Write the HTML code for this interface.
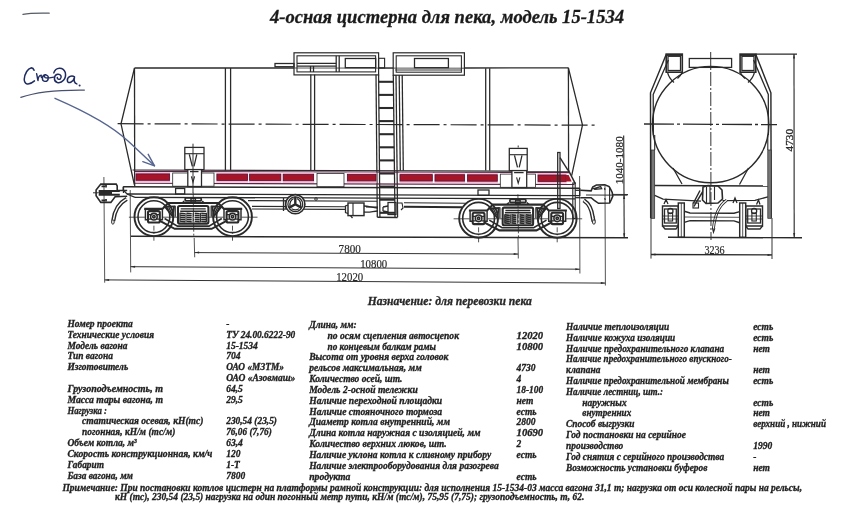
<!DOCTYPE html>
<html><head><meta charset="utf-8"><title>4-осная цистерна для пека, модель 15-1534</title>
<style>
html,body{margin:0;padding:0;background:#ffffff;}
body{width:850px;height:521px;overflow:hidden;font-family:"Liberation Serif",serif;}
svg{display:block;position:absolute;left:0;top:0;}
svg text{font-family:"Liberation Serif",serif;}
#txt,#dims{filter:grayscale(1) blur(0.3px);}
#side,#end,#hand{filter:blur(0.3px);}
</style></head><body>
<svg width="850" height="521" viewBox="0 0 850 521">
<rect x="0" y="0" width="850" height="521" fill="#ffffff"/>
<g id="side" fill="none" stroke-linecap="butt">
<line x1="134.5" y1="68.0" x2="294.0" y2="68.0" stroke="#2a2a2a" stroke-width="1.28" />
<line x1="378.0" y1="68.0" x2="393.0" y2="68.0" stroke="#2a2a2a" stroke-width="1.12" />
<line x1="464.4" y1="68.0" x2="568.4" y2="67.8" stroke="#2a2a2a" stroke-width="1.28" />
<line x1="294.0" y1="68.0" x2="464.4" y2="68.2" stroke="#2a2a2a" stroke-width="0.80" />
<path d="M134.5 68 L121 123.8 L134.3 184.5" stroke="#2a2a2a" stroke-width="1.28" fill="none" />
<line x1="134.5" y1="68.0" x2="134.7" y2="186.6" stroke="#2a2a2a" stroke-width="1.28" />
<path d="M568.4 67.8 L582.5 125 L571.7 175.6" stroke="#2a2a2a" stroke-width="1.28" fill="none" />
<line x1="568.5" y1="170.3" x2="575.4" y2="183.8" stroke="#2a2a2a" stroke-width="1.44" />
<line x1="568.4" y1="67.8" x2="568.6" y2="172.0" stroke="#2a2a2a" stroke-width="1.28" />
<line x1="132.5" y1="170.0" x2="569.0" y2="171.2" stroke="#2a2a2a" stroke-width="1.20" />
<line x1="117.6" y1="123.7" x2="597.0" y2="125.2" stroke="#2a2a2a" stroke-width="1.20" stroke-dasharray="26 4 3 4"/>
<line x1="225.4" y1="68.0" x2="225.4" y2="170.5" stroke="#2a2a2a" stroke-width="1.28" />
<line x1="230.6" y1="68.0" x2="230.6" y2="170.5" stroke="#2a2a2a" stroke-width="1.28" />
<line x1="310.8" y1="74.6" x2="310.8" y2="170.5" stroke="#2a2a2a" stroke-width="1.28" />
<line x1="314.6" y1="74.6" x2="314.6" y2="170.5" stroke="#2a2a2a" stroke-width="1.28" />
<line x1="485.7" y1="68.3" x2="485.7" y2="170.5" stroke="#2a2a2a" stroke-width="1.28" />
<line x1="489.7" y1="68.3" x2="489.7" y2="170.5" stroke="#2a2a2a" stroke-width="1.28" />
<line x1="399.2" y1="75.0" x2="400.3" y2="170.6" stroke="#2a2a2a" stroke-width="1.28" />
<line x1="402.2" y1="75.0" x2="403.3" y2="170.6" stroke="#2a2a2a" stroke-width="1.28" />
<rect x="294.0" y="52.8" width="84.6" height="22.1" stroke="#2a2a2a" stroke-width="1.20" fill="none" />
<rect x="297.0" y="55.8" width="78.6" height="16.1" stroke="#2a2a2a" stroke-width="1.08" fill="none" />
<line x1="336.2" y1="55.8" x2="336.2" y2="71.9" stroke="#2a2a2a" stroke-width="1.28" />
<line x1="339.2" y1="55.8" x2="339.2" y2="71.9" stroke="#2a2a2a" stroke-width="1.28" />
<line x1="297.0" y1="63.3" x2="336.2" y2="63.3" stroke="#2a2a2a" stroke-width="1.28" />
<line x1="297.0" y1="66.2" x2="336.2" y2="66.2" stroke="#2a2a2a" stroke-width="1.28" />
<rect x="345.3" y="58.5" width="30.4" height="9.2" stroke="#2a2a2a" stroke-width="1.28" fill="none" />
<rect x="275.0" y="63.5" width="19.0" height="3.2" stroke="#2a2a2a" stroke-width="1.28" fill="none" />
<rect x="378.6" y="58.3" width="6.0" height="9.6" stroke="#2a2a2a" stroke-width="1.12" fill="none" />
<line x1="310.5" y1="66.0" x2="310.5" y2="72.0" stroke="#2a2a2a" stroke-width="1.28" />
<line x1="313.5" y1="66.0" x2="313.5" y2="72.0" stroke="#2a2a2a" stroke-width="1.28" />
<rect x="393.2" y="52.8" width="71.2" height="22.4" stroke="#2a2a2a" stroke-width="1.20" fill="none" />
<rect x="396.2" y="55.8" width="65.2" height="16.4" stroke="#2a2a2a" stroke-width="1.08" fill="none" />
<rect x="414.5" y="58.5" width="33.9" height="9.2" stroke="#2a2a2a" stroke-width="1.28" fill="none" />
<line x1="395.3" y1="70.0" x2="461.9" y2="70.0" stroke="#2a2a2a" stroke-width="0.96" />
<line x1="376.0" y1="74.6" x2="377.3" y2="217.3" stroke="#2a2a2a" stroke-width="1.28" />
<line x1="378.6" y1="74.6" x2="379.9" y2="217.3" stroke="#2a2a2a" stroke-width="1.28" />
<line x1="393.3" y1="75.0" x2="395.0" y2="217.3" stroke="#2a2a2a" stroke-width="1.28" />
<line x1="396.0" y1="75.0" x2="397.6" y2="217.3" stroke="#2a2a2a" stroke-width="1.28" />
<line x1="378.7" y1="81.8" x2="393.4" y2="81.8" stroke="#2a2a2a" stroke-width="2.08" />
<line x1="378.8" y1="94.9" x2="393.5" y2="94.9" stroke="#2a2a2a" stroke-width="2.08" />
<line x1="378.9" y1="108.0" x2="393.7" y2="108.0" stroke="#2a2a2a" stroke-width="2.08" />
<line x1="379.0" y1="121.1" x2="393.9" y2="121.1" stroke="#2a2a2a" stroke-width="2.08" />
<line x1="379.1" y1="134.2" x2="394.0" y2="134.2" stroke="#2a2a2a" stroke-width="2.08" />
<line x1="379.3" y1="147.3" x2="394.2" y2="147.3" stroke="#2a2a2a" stroke-width="2.08" />
<line x1="379.4" y1="160.4" x2="394.3" y2="160.4" stroke="#2a2a2a" stroke-width="2.08" />
<line x1="379.5" y1="173.5" x2="394.5" y2="173.5" stroke="#2a2a2a" stroke-width="2.08" />
<line x1="379.6" y1="186.6" x2="394.6" y2="186.6" stroke="#2a2a2a" stroke-width="2.08" />
<line x1="379.7" y1="199.7" x2="394.8" y2="199.7" stroke="#2a2a2a" stroke-width="2.08" />
<line x1="379.9" y1="212.8" x2="395.0" y2="212.8" stroke="#2a2a2a" stroke-width="2.08" />
<line x1="377.3" y1="217.3" x2="397.6" y2="217.5" stroke="#2a2a2a" stroke-width="1.60" />
<line x1="135.0" y1="171.4" x2="569.5" y2="172.6" stroke="#5a2545" stroke-width="1.12" />
<line x1="135.0" y1="183.3" x2="574.5" y2="184.5" stroke="#5a2545" stroke-width="1.12" />
<rect x="135.4" y="172.0" width="34.8" height="10.5" fill="#f1bdd8" stroke="none"/>
<rect x="136.0" y="173.9" width="33.6" height="6.4" fill="#a61428" stroke="#5a1034" stroke-width="0.8"/>
<rect x="216.3" y="172.2" width="31.9" height="10.5" fill="#f1bdd8" stroke="none"/>
<rect x="216.9" y="174.1" width="30.7" height="6.4" fill="#a61428" stroke="#5a1034" stroke-width="0.8"/>
<rect x="249.0" y="172.3" width="32.4" height="10.5" fill="#f1bdd8" stroke="none"/>
<rect x="249.6" y="174.2" width="31.2" height="6.4" fill="#a61428" stroke="#5a1034" stroke-width="0.8"/>
<rect x="282.6" y="172.4" width="31.6" height="10.5" fill="#f1bdd8" stroke="none"/>
<rect x="283.2" y="174.3" width="30.4" height="6.4" fill="#a61428" stroke="#5a1034" stroke-width="0.8"/>
<rect x="346.8" y="172.6" width="29.8" height="10.5" fill="#f1bdd8" stroke="none"/>
<rect x="347.4" y="174.5" width="28.6" height="6.4" fill="#a61428" stroke="#5a1034" stroke-width="0.8"/>
<rect x="399.4" y="172.7" width="33.5" height="10.5" fill="#f1bdd8" stroke="none"/>
<rect x="400.0" y="174.6" width="32.3" height="6.4" fill="#a61428" stroke="#5a1034" stroke-width="0.8"/>
<rect x="434.4" y="172.8" width="30.8" height="10.5" fill="#f1bdd8" stroke="none"/>
<rect x="435.0" y="174.7" width="29.6" height="6.4" fill="#a61428" stroke="#5a1034" stroke-width="0.8"/>
<rect x="466.9" y="172.9" width="31.0" height="10.5" fill="#f1bdd8" stroke="none"/>
<rect x="467.5" y="174.8" width="29.8" height="6.4" fill="#a61428" stroke="#5a1034" stroke-width="0.8"/>
<rect x="537.4" y="173.1" width="29.2" height="10.5" fill="#f1bdd8" stroke="none"/>
<rect x="538.0" y="175.0" width="28.0" height="6.4" fill="#a61428" stroke="#5a1034" stroke-width="0.8"/>
<path d="M565.5 175 L568.6 175 L571.7 181.4 L565.5 181.4 Z" stroke="none" stroke-width="0.00" fill="#a61428" />
<rect x="172.7" y="173.0" width="41.3" height="13.2" fill="#ffffff" stroke="#2a2a2a" stroke-width="0.8"/>
<rect x="317.0" y="173.5" width="27.0" height="13.2" fill="#ffffff" stroke="#2a2a2a" stroke-width="0.8"/>
<rect x="500.3" y="174.1" width="35.2" height="13.2" fill="#ffffff" stroke="#2a2a2a" stroke-width="0.8"/>
<line x1="123.2" y1="186.8" x2="579.7" y2="188.3" stroke="#2a2a2a" stroke-width="1.60" />
<rect x="184.8" y="147.4" width="19.2" height="22.2" stroke="#2a2a2a" stroke-width="1.28" fill="none" />
<line x1="184.8" y1="153.7" x2="204.0" y2="153.7" stroke="#2a2a2a" stroke-width="1.12" />
<path d="M189.3 154.3 L192.3 166.4 M196.8 154.3 L194.0 166.4" stroke="#2a2a2a" stroke-width="1.28" fill="none" />
<rect x="187.8" y="169.6" width="13.7" height="16.9" fill="#ffffff" stroke="#2a2a2a" stroke-width="1.28"/>
<line x1="190.0" y1="171.6" x2="198.5" y2="171.6" stroke="#2a2a2a" stroke-width="1.28" />
<path d="M191.4 176.4 L193.0 182.2 L194.6 176.4" stroke="#2a2a2a" stroke-width="1.12" fill="none" />
<line x1="193.0" y1="143.7" x2="193.0" y2="193.0" stroke="#2a2a2a" stroke-width="0.96" />
<rect x="509.3" y="148.4" width="17.9" height="22.2" stroke="#2a2a2a" stroke-width="1.28" fill="none" />
<line x1="509.3" y1="154.7" x2="527.2" y2="154.7" stroke="#2a2a2a" stroke-width="1.12" />
<path d="M514.5 155.3 L517.5 167.4 M522.0 155.3 L519.2 167.4" stroke="#2a2a2a" stroke-width="1.28" fill="none" />
<rect x="511.9" y="170.6" width="14.8" height="16.9" fill="#ffffff" stroke="#2a2a2a" stroke-width="1.28"/>
<line x1="514.1" y1="172.6" x2="523.6" y2="172.6" stroke="#2a2a2a" stroke-width="1.28" />
<path d="M516.6 177.4 L518.2 183.2 L519.9 177.4" stroke="#2a2a2a" stroke-width="1.12" fill="none" />
<line x1="518.2" y1="145.5" x2="518.2" y2="147.5" stroke="#2a2a2a" stroke-width="0.96" />
<line x1="123.2" y1="186.8" x2="123.2" y2="190.0" stroke="#2a2a2a" stroke-width="1.28" />
<line x1="127.0" y1="194.0" x2="580.0" y2="195.6" stroke="#2a2a2a" stroke-width="1.28" />
<line x1="135.0" y1="197.3" x2="575.0" y2="198.9" stroke="#2a2a2a" stroke-width="1.28" />
<path d="M123.2 190 L127 194 L135 197.3" stroke="#2a2a2a" stroke-width="1.28" fill="none" />
<line x1="123.5" y1="186.6" x2="123.5" y2="193.0" stroke="#2a2a2a" stroke-width="1.28" />
<line x1="248.0" y1="200.6" x2="377.0" y2="201.2" stroke="#2a2a2a" stroke-width="1.12" />
<line x1="404.0" y1="202.8" x2="466.0" y2="203.2" stroke="#2a2a2a" stroke-width="1.12" />
<line x1="252.0" y1="206.4" x2="346.0" y2="206.8" stroke="#2a2a2a" stroke-width="1.12" />
<line x1="252.0" y1="209.0" x2="346.0" y2="209.4" stroke="#2a2a2a" stroke-width="1.12" />
<line x1="366.0" y1="207.0" x2="378.0" y2="207.0" stroke="#2a2a2a" stroke-width="1.12" />
<line x1="404.0" y1="206.8" x2="462.0" y2="207.2" stroke="#2a2a2a" stroke-width="1.92" />
<circle cx="316.0" cy="199.0" r="1.3" stroke="#2a2a2a" stroke-width="0.96" fill="none"/>
<circle cx="295.3" cy="204.2" r="9.6" stroke="#2a2a2a" stroke-width="1.60" fill="#ffffff"/>
<circle cx="295.3" cy="204.2" r="7.4" stroke="#2a2a2a" stroke-width="1.28" fill="none"/>
<path d="M295.3 204.2 L295.3 196.8 M295.3 204.2 L288.9 207.9 M295.3 204.2 L301.7 207.9" stroke="#2a2a2a" stroke-width="2.40" fill="none" />
<path d="M293.6 198.5 C291 200 289.6 203 290 206 M297 198.5 C299.6 200 301 203 300.6 206 M291.5 208.8 C294 210.2 296.6 210.2 299.1 208.8" stroke="#2a2a2a" stroke-width="1.28" fill="none" />
<line x1="283.5" y1="198.0" x2="283.5" y2="211.0" stroke="#2a2a2a" stroke-width="1.28" />
<line x1="285.3" y1="200.0" x2="285.3" y2="209.0" stroke="#2a2a2a" stroke-width="0.96" />
<rect x="348.0" y="203.0" width="16.0" height="12.6" stroke="#2a2a2a" stroke-width="1.44" fill="none" />
<line x1="353.0" y1="203.0" x2="353.0" y2="215.6" stroke="#2a2a2a" stroke-width="1.12" />
<path d="M348 205 L345.5 206 L345.5 212.5 L348 213.5" stroke="#2a2a2a" stroke-width="1.28" fill="none" />
<path d="M364 206 C369 206 372 208 378 208 M364 212 C370 213 373 211 378 211" stroke="#2a2a2a" stroke-width="1.28" fill="none" />
<line x1="350.5" y1="215.6" x2="352.5" y2="218.0" stroke="#2a2a2a" stroke-width="1.28" />
<rect x="388.0" y="202.5" width="8.0" height="12.0" stroke="#2a2a2a" stroke-width="1.28" fill="none" />
<path d="M383 207 L388 206 M383 211 L388 212 M383 207 L383 211" stroke="#2a2a2a" stroke-width="1.28" fill="none" />
<path d="M398 203 L402 203 L403 208 L401 210" stroke="#2a2a2a" stroke-width="1.12" fill="none" />
<circle cx="153.9" cy="216.7" r="19.4" stroke="#2a2a2a" stroke-width="1.92" fill="none"/>
<circle cx="153.9" cy="216.7" r="15.9" stroke="#2a2a2a" stroke-width="1.60" fill="none"/>
<rect x="148.0" y="211.1" width="11.8" height="11.4" rx="1.5" fill="none" stroke="#2a2a2a" stroke-width="2.08"/>
<circle cx="153.9" cy="216.7" r="3.3" stroke="#2a2a2a" stroke-width="1.60" fill="none"/>
<circle cx="153.9" cy="216.7" r="1.2" stroke="#2a2a2a" stroke-width="1.60" fill="none"/>
<path d="M148.0 214.7 L150.9 214.7 M156.9 214.7 L159.8 214.7 M148.0 219.2 L150.9 219.2 M156.9 219.2 L159.8 219.2" stroke="#2a2a2a" stroke-width="1.28" fill="none" />
<path d="M145.4 208.9 L145.4 219.7 L148.0 219.7 M162.4 208.9 L162.4 219.7 L159.8 219.7" stroke="#2a2a2a" stroke-width="1.44" fill="none" />
<line x1="153.9" y1="225.7" x2="153.9" y2="241.7" stroke="#2a2a2a" stroke-width="0.80" stroke-dasharray="5 2 1 2"/>
<line x1="128.9" y1="217.2" x2="144.9" y2="217.2" stroke="#2a2a2a" stroke-width="0.80" />
<line x1="162.9" y1="217.2" x2="178.9" y2="217.2" stroke="#2a2a2a" stroke-width="0.80" />
<circle cx="232.5" cy="216.7" r="19.4" stroke="#2a2a2a" stroke-width="1.92" fill="none"/>
<circle cx="232.5" cy="216.7" r="15.9" stroke="#2a2a2a" stroke-width="1.60" fill="none"/>
<rect x="226.6" y="211.1" width="11.8" height="11.4" rx="1.5" fill="none" stroke="#2a2a2a" stroke-width="2.08"/>
<circle cx="232.5" cy="216.7" r="3.3" stroke="#2a2a2a" stroke-width="1.60" fill="none"/>
<circle cx="232.5" cy="216.7" r="1.2" stroke="#2a2a2a" stroke-width="1.60" fill="none"/>
<path d="M226.6 214.7 L229.5 214.7 M235.5 214.7 L238.4 214.7 M226.6 219.2 L229.5 219.2 M235.5 219.2 L238.4 219.2" stroke="#2a2a2a" stroke-width="1.28" fill="none" />
<path d="M224.0 208.9 L224.0 219.7 L226.6 219.7 M241.0 208.9 L241.0 219.7 L238.4 219.7" stroke="#2a2a2a" stroke-width="1.44" fill="none" />
<line x1="232.5" y1="225.7" x2="232.5" y2="241.7" stroke="#2a2a2a" stroke-width="0.80" stroke-dasharray="5 2 1 2"/>
<line x1="207.5" y1="217.2" x2="223.5" y2="217.2" stroke="#2a2a2a" stroke-width="0.80" />
<line x1="241.5" y1="217.2" x2="257.5" y2="217.2" stroke="#2a2a2a" stroke-width="0.80" />
<path d="M144.2 208.9 L162.4 208.9 L168.2 203.0 L218.2 203.0 L224.0 208.9 L242.2 208.9" stroke="#2a2a2a" stroke-width="2.08" fill="none" />
<path d="M159.4 220.7 L174.7 228.8 L211.7 228.8 L227.0 220.7" stroke="#2a2a2a" stroke-width="2.08" fill="none" />
<path d="M164.6 218.5 L177.4 226.1 L209.0 226.1 L221.8 218.5" stroke="#2a2a2a" stroke-width="1.60" fill="none" />
<path d="M165.0 206.7 L174.1 206.4 L172.6 216.3 Z" stroke="#2a2a2a" stroke-width="1.76" fill="none" />
<path d="M168.7 207.2 L171.9 213.7" stroke="#2a2a2a" stroke-width="1.44" fill="none" />
<path d="M175.2 205.7 L175.2 216.7" stroke="#2a2a2a" stroke-width="1.28" fill="none" />
<path d="M221.4 206.7 L212.3 206.4 L213.8 216.3 Z" stroke="#2a2a2a" stroke-width="1.76" fill="none" />
<path d="M217.7 207.2 L214.5 213.7" stroke="#2a2a2a" stroke-width="1.44" fill="none" />
<path d="M211.2 205.7 L211.2 216.7" stroke="#2a2a2a" stroke-width="1.28" fill="none" />
<rect x="178.0" y="206.0" width="30.4" height="17.6" rx="1.5" fill="none" stroke="#2a2a2a" stroke-width="2.08"/>
<path d="M180.7 208.9 L205.7 208.9 M180.2 211.2 L206.2 211.2" stroke="#2a2a2a" stroke-width="1.44" fill="none" />
<path d="M180.2 213.3 L185.2 213.8 M186.7 213.3 L191.7 213.8 M194.7 213.3 L199.7 213.8 M201.2 213.3 L206.2 213.8" stroke="#2a2a2a" stroke-width="1.60" fill="none" />
<path d="M180.2 215.3 L185.2 215.8 M186.7 215.3 L191.7 215.8 M194.7 215.3 L199.7 215.8 M201.2 215.3 L206.2 215.8" stroke="#2a2a2a" stroke-width="1.60" fill="none" />
<path d="M180.2 217.3 L185.2 217.8 M186.7 217.3 L191.7 217.8 M194.7 217.3 L199.7 217.8 M201.2 217.3 L206.2 217.8" stroke="#2a2a2a" stroke-width="1.60" fill="none" />
<path d="M180.2 219.3 L185.2 219.8 M186.7 219.3 L191.7 219.8 M194.7 219.3 L199.7 219.8 M201.2 219.3 L206.2 219.8" stroke="#2a2a2a" stroke-width="1.60" fill="none" />
<path d="M180.2 221.3 L185.2 221.8 M186.7 221.3 L191.7 221.8 M194.7 221.3 L199.7 221.8 M201.2 221.3 L206.2 221.8" stroke="#2a2a2a" stroke-width="1.60" fill="none" />
<line x1="180.0" y1="212.7" x2="180.0" y2="222.2" stroke="#2a2a2a" stroke-width="1.12" />
<line x1="186.0" y1="212.7" x2="186.0" y2="222.2" stroke="#2a2a2a" stroke-width="1.12" />
<line x1="193.1" y1="212.7" x2="193.1" y2="222.2" stroke="#2a2a2a" stroke-width="1.12" />
<line x1="200.4" y1="212.7" x2="200.4" y2="222.2" stroke="#2a2a2a" stroke-width="1.12" />
<line x1="206.4" y1="212.7" x2="206.4" y2="222.2" stroke="#2a2a2a" stroke-width="1.12" />
<rect x="185.2" y="197.8" width="16" height="3.1" rx="1" fill="none" stroke="#2a2a2a" stroke-width="1.76"/>
<rect x="191.0" y="198.5" width="4.4" height="3.7" stroke="#2a2a2a" stroke-width="1.44" fill="none" />
<path d="M182.2 203.0 L184.2 200.9 M204.2 203.0 L202.2 200.9" stroke="#2a2a2a" stroke-width="1.44" fill="none" />
<line x1="193.2" y1="192.7" x2="193.8" y2="237.7" stroke="#2a2a2a" stroke-width="0.80" stroke-dasharray="9 2 2 2"/>
<circle cx="478.6" cy="218.3" r="19.4" stroke="#2a2a2a" stroke-width="1.92" fill="none"/>
<circle cx="478.6" cy="218.3" r="15.9" stroke="#2a2a2a" stroke-width="1.60" fill="none"/>
<rect x="472.7" y="212.7" width="11.8" height="11.4" rx="1.5" fill="none" stroke="#2a2a2a" stroke-width="2.08"/>
<circle cx="478.6" cy="218.3" r="3.3" stroke="#2a2a2a" stroke-width="1.60" fill="none"/>
<circle cx="478.6" cy="218.3" r="1.2" stroke="#2a2a2a" stroke-width="1.60" fill="none"/>
<path d="M472.7 216.3 L475.6 216.3 M481.6 216.3 L484.5 216.3 M472.7 220.8 L475.6 220.8 M481.6 220.8 L484.5 220.8" stroke="#2a2a2a" stroke-width="1.28" fill="none" />
<path d="M470.1 210.5 L470.1 221.3 L472.7 221.3 M487.1 210.5 L487.1 221.3 L484.5 221.3" stroke="#2a2a2a" stroke-width="1.44" fill="none" />
<line x1="478.6" y1="227.3" x2="478.6" y2="243.3" stroke="#2a2a2a" stroke-width="0.80" stroke-dasharray="5 2 1 2"/>
<line x1="453.6" y1="218.8" x2="469.6" y2="218.8" stroke="#2a2a2a" stroke-width="0.80" />
<line x1="487.6" y1="218.8" x2="503.6" y2="218.8" stroke="#2a2a2a" stroke-width="0.80" />
<circle cx="557.2" cy="218.3" r="19.4" stroke="#2a2a2a" stroke-width="1.92" fill="none"/>
<circle cx="557.2" cy="218.3" r="15.9" stroke="#2a2a2a" stroke-width="1.60" fill="none"/>
<rect x="551.3" y="212.7" width="11.8" height="11.4" rx="1.5" fill="none" stroke="#2a2a2a" stroke-width="2.08"/>
<circle cx="557.2" cy="218.3" r="3.3" stroke="#2a2a2a" stroke-width="1.60" fill="none"/>
<circle cx="557.2" cy="218.3" r="1.2" stroke="#2a2a2a" stroke-width="1.60" fill="none"/>
<path d="M551.3 216.3 L554.2 216.3 M560.2 216.3 L563.1 216.3 M551.3 220.8 L554.2 220.8 M560.2 220.8 L563.1 220.8" stroke="#2a2a2a" stroke-width="1.28" fill="none" />
<path d="M548.7 210.5 L548.7 221.3 L551.3 221.3 M565.7 210.5 L565.7 221.3 L563.1 221.3" stroke="#2a2a2a" stroke-width="1.44" fill="none" />
<line x1="557.2" y1="227.3" x2="557.2" y2="243.3" stroke="#2a2a2a" stroke-width="0.80" stroke-dasharray="5 2 1 2"/>
<line x1="532.2" y1="218.8" x2="548.2" y2="218.8" stroke="#2a2a2a" stroke-width="0.80" />
<line x1="566.2" y1="218.8" x2="582.2" y2="218.8" stroke="#2a2a2a" stroke-width="0.80" />
<path d="M468.9 210.5 L487.1 210.5 L492.9 204.6 L542.9 204.6 L548.7 210.5 L566.9 210.5" stroke="#2a2a2a" stroke-width="2.08" fill="none" />
<path d="M484.1 222.3 L499.4 230.4 L536.4 230.4 L551.7 222.3" stroke="#2a2a2a" stroke-width="2.08" fill="none" />
<path d="M489.3 220.1 L502.1 227.7 L533.7 227.7 L546.5 220.1" stroke="#2a2a2a" stroke-width="1.60" fill="none" />
<path d="M489.7 208.3 L498.8 208.0 L497.3 217.9 Z" stroke="#2a2a2a" stroke-width="1.76" fill="none" />
<path d="M493.4 208.8 L496.6 215.3" stroke="#2a2a2a" stroke-width="1.44" fill="none" />
<path d="M499.9 207.3 L499.9 218.3" stroke="#2a2a2a" stroke-width="1.28" fill="none" />
<path d="M546.1 208.3 L537.0 208.0 L538.5 217.9 Z" stroke="#2a2a2a" stroke-width="1.76" fill="none" />
<path d="M542.4 208.8 L539.2 215.3" stroke="#2a2a2a" stroke-width="1.44" fill="none" />
<path d="M535.9 207.3 L535.9 218.3" stroke="#2a2a2a" stroke-width="1.28" fill="none" />
<rect x="502.7" y="207.6" width="30.4" height="17.6" rx="1.5" fill="none" stroke="#2a2a2a" stroke-width="2.08"/>
<path d="M505.4 210.5 L530.4 210.5 M504.9 212.8 L530.9 212.8" stroke="#2a2a2a" stroke-width="1.44" fill="none" />
<path d="M504.9 214.9 L509.9 215.4 M511.4 214.9 L516.4 215.4 M519.4 214.9 L524.4 215.4 M525.9 214.9 L530.9 215.4" stroke="#2a2a2a" stroke-width="1.60" fill="none" />
<path d="M504.9 216.9 L509.9 217.4 M511.4 216.9 L516.4 217.4 M519.4 216.9 L524.4 217.4 M525.9 216.9 L530.9 217.4" stroke="#2a2a2a" stroke-width="1.60" fill="none" />
<path d="M504.9 218.9 L509.9 219.4 M511.4 218.9 L516.4 219.4 M519.4 218.9 L524.4 219.4 M525.9 218.9 L530.9 219.4" stroke="#2a2a2a" stroke-width="1.60" fill="none" />
<path d="M504.9 220.9 L509.9 221.4 M511.4 220.9 L516.4 221.4 M519.4 220.9 L524.4 221.4 M525.9 220.9 L530.9 221.4" stroke="#2a2a2a" stroke-width="1.60" fill="none" />
<path d="M504.9 222.9 L509.9 223.4 M511.4 222.9 L516.4 223.4 M519.4 222.9 L524.4 223.4 M525.9 222.9 L530.9 223.4" stroke="#2a2a2a" stroke-width="1.60" fill="none" />
<line x1="504.7" y1="214.3" x2="504.7" y2="223.8" stroke="#2a2a2a" stroke-width="1.12" />
<line x1="510.7" y1="214.3" x2="510.7" y2="223.8" stroke="#2a2a2a" stroke-width="1.12" />
<line x1="517.8" y1="214.3" x2="517.8" y2="223.8" stroke="#2a2a2a" stroke-width="1.12" />
<line x1="525.1" y1="214.3" x2="525.1" y2="223.8" stroke="#2a2a2a" stroke-width="1.12" />
<line x1="531.1" y1="214.3" x2="531.1" y2="223.8" stroke="#2a2a2a" stroke-width="1.12" />
<rect x="509.9" y="199.4" width="16" height="3.1" rx="1" fill="none" stroke="#2a2a2a" stroke-width="1.76"/>
<rect x="515.7" y="200.1" width="4.4" height="3.7" stroke="#2a2a2a" stroke-width="1.44" fill="none" />
<path d="M506.9 204.6 L508.9 202.5 M528.9 204.6 L526.9 202.5" stroke="#2a2a2a" stroke-width="1.44" fill="none" />
<line x1="517.9" y1="194.3" x2="518.5" y2="239.3" stroke="#2a2a2a" stroke-width="0.80" stroke-dasharray="9 2 2 2"/>
<rect x="175.6" y="188.5" width="9.1" height="5.5" stroke="#2a2a2a" stroke-width="1.28" fill="none" />
<rect x="478.0" y="190.0" width="11.0" height="5.3" stroke="#2a2a2a" stroke-width="1.28" fill="none" />
<line x1="131.0" y1="236.3" x2="628.0" y2="237.8" stroke="#2a2a2a" stroke-width="1.44" />
<path d="M580.6 190.3 L591.1 190.8 L592.7 187.1 L596.4 185 L604.8 184.7 L609.1 186.6 L610.7 189.3 L612.2 192.4 L612.8 196.1 L611.2 199.8 L609.6 203 L598.5 203.3 L594.3 200.3 L591.1 197.7 L580.6 197.7" stroke="#2a2a2a" stroke-width="1.60" fill="none" />
<path d="M593.8 188.7 L600.6 186.6 L601.7 188.7 L594.8 189.3 Z" stroke="#2a2a2a" stroke-width="1.28" fill="none" />
<path d="M609.6 187 L609.6 203 M604.5 188 L605 190 M604.8 198 L605.2 200" stroke="#2a2a2a" stroke-width="1.12" fill="none" />
<line x1="586.0" y1="195.0" x2="627.5" y2="195.2" stroke="#2a2a2a" stroke-width="0.96" />
<path d="M583.7 200.3 C588 203 591.5 208 592.7 217.2 L593.6 221.5" stroke="#2a2a2a" stroke-width="4.16" fill="none" />
<path d="M583.7 200.3 C588 203 591.5 208 592.7 217.2 L593.6 221.5" stroke="#ffffff" stroke-width="1.44" fill="none" />
<ellipse cx="593.9" cy="222" rx="1.4" ry="2.2" fill="#ffffff" stroke="#2a2a2a" stroke-width="1.0"/>
<path d="M127.2 190.5 L117.2 190.5 L117.2 186 L116.2 184.1 L100.8 184.1 L96.1 190 L96.1 195.8 L100.8 202.4 L110.9 202.4 L115.1 196.8 L127.2 196.3" stroke="#2a2a2a" stroke-width="1.60" fill="none" />
<path d="M98.7 191 L119.8 191 M98.7 194.7 L119.8 194.7" stroke="#2a2a2a" stroke-width="1.92" fill="none" />
<path d="M99 192.8 L112 192.8" stroke="#2a2a2a" stroke-width="2.56" fill="none" />
<path d="M101.5 186.3 L105 186.3 M101.5 200.3 L105 200.3 M106 185 L106 187.5 M106 199 L106 201.5" stroke="#2a2a2a" stroke-width="1.76" fill="none" />
<line x1="93.0" y1="192.8" x2="99.0" y2="192.8" stroke="#2a2a2a" stroke-width="0.96" />
<path d="M126.7 198.9 C119 203 114.5 210 113.2 221" stroke="#2a2a2a" stroke-width="4.16" fill="none" />
<path d="M126.7 198.9 C119 203 114.5 210 113.2 221" stroke="#ffffff" stroke-width="1.44" fill="none" />
<ellipse cx="112.9" cy="222" rx="1.3" ry="2.2" fill="#ffffff" stroke="#2a2a2a" stroke-width="1.0"/>
<line x1="579.7" y1="188.0" x2="579.7" y2="196.0" stroke="#2a2a2a" stroke-width="1.44" />
<rect x="557.7" y="152.5" width="2.3" height="56.0" stroke="#2a2a2a" stroke-width="1.28" fill="none" />
<line x1="560.0" y1="157.7" x2="568.0" y2="170.3" stroke="#2a2a2a" stroke-width="1.44" />
<rect x="572.8" y="183.0" width="2.4" height="35.5" stroke="#2a2a2a" stroke-width="1.12" fill="none" />
<line x1="575.2" y1="190.3" x2="580.6" y2="190.3" stroke="#2a2a2a" stroke-width="1.28" />
<line x1="575.2" y1="197.7" x2="580.6" y2="197.7" stroke="#2a2a2a" stroke-width="1.28" />
</g>
<g id="end" fill="none">
<circle cx="710.7" cy="124.6" r="58.2" stroke="#2a2a2a" stroke-width="1.44" fill="none"/>
<line x1="644.0" y1="124.0" x2="777.0" y2="124.6" stroke="#2a2a2a" stroke-width="1.28" stroke-dasharray="30 3 3 3"/>
<line x1="710.7" y1="52.0" x2="711.0" y2="240.0" stroke="#2a2a2a" stroke-width="0.96" stroke-dasharray="14 2 2 2"/>
<rect x="666.2" y="54.1" width="16.1" height="18.1" stroke="#2a2a2a" stroke-width="1.60" fill="none" />
<rect x="668.0" y="56.3" width="12.5" height="14.2" stroke="#2a2a2a" stroke-width="1.28" fill="none" />
<line x1="666.2" y1="55.0" x2="682.3" y2="55.0" stroke="#2a2a2a" stroke-width="1.92" />
<rect x="740.1" y="54.1" width="15.7" height="18.1" stroke="#2a2a2a" stroke-width="1.60" fill="none" />
<rect x="741.9" y="56.3" width="12.1" height="14.2" stroke="#2a2a2a" stroke-width="1.28" fill="none" />
<line x1="740.1" y1="55.0" x2="755.8" y2="55.0" stroke="#2a2a2a" stroke-width="1.92" />
<rect x="689.3" y="58.5" width="42.3" height="8.9" stroke="#2a2a2a" stroke-width="1.28" fill="none" />
<path d="M667.5 72.2 C668.5 77 671 80 674 82.5 M682.3 72.2 C681.5 74 680 76 677.5 78.5" stroke="#2a2a2a" stroke-width="1.28" fill="none" />
<path d="M754.5 72.2 C753.5 77 751 80 748 82.5 M740.1 72.2 C741 74 742.5 76 745 78.5" stroke="#2a2a2a" stroke-width="1.28" fill="none" />
<path d="M666.2 54.5 L650.5 92.8 L650.7 218.3" stroke="#2a2a2a" stroke-width="1.44" fill="none" />
<path d="M668.4 60 L653.2 94.5 L653.4 135" stroke="#2a2a2a" stroke-width="1.28" fill="none" />
<path d="M755.8 54.5 L770.9 92.8 L771.2 218.3" stroke="#2a2a2a" stroke-width="1.44" fill="none" />
<path d="M753.6 60 L768.3 94.5 L768.4 135" stroke="#2a2a2a" stroke-width="1.28" fill="none" />
<rect x="651.3" y="150" width="3.4" height="68.3" fill="#777" stroke="#2a2a2a" stroke-width="0.7"/>
<rect x="767.8" y="150" width="3.4" height="68.3" fill="#777" stroke="#2a2a2a" stroke-width="0.7"/>
<line x1="654.7" y1="135.0" x2="654.7" y2="150.0" stroke="#2a2a2a" stroke-width="1.12" />
<line x1="767.8" y1="135.0" x2="767.8" y2="150.0" stroke="#2a2a2a" stroke-width="1.12" />
<path d="M673 168 L682 184 M748.5 168 L739.5 184.5" stroke="#2a2a2a" stroke-width="1.28" fill="none" />
<line x1="654.7" y1="185.5" x2="767.8" y2="186.0" stroke="#2a2a2a" stroke-width="1.44" />
<path d="M654.7 195.4 L663 199.2 L701 201.2 M722.5 200.6 L755 200.4 L767.8 196.8" stroke="#2a2a2a" stroke-width="1.28" fill="none" />
<path d="M703 187 L708 185.5 L718 186 L722 190 L722.5 199 L718 203 L706 203.5 L702.5 200 Z" stroke="#2a2a2a" stroke-width="1.60" fill="none" />
<path d="M706.5 187 L706.5 203 M710 186 L710 203 M714.5 186.5 L714.5 200" stroke="#2a2a2a" stroke-width="1.12" fill="none" />
<path d="M702.5 192 L697 201 L694 206.5 M700 190.5 L693.5 203" stroke="#2a2a2a" stroke-width="1.44" fill="none" />
<rect x="693.0" y="203.0" width="5.5" height="5.0" stroke="#2a2a2a" stroke-width="1.12" fill="none" />
<path d="M726.7 200.3 C719.5 205 715 214 713.4 228.6" stroke="#2a2a2a" stroke-width="2.88" fill="none" />
<path d="M726.7 200.3 C719.5 205 715 214 713.4 228.6" stroke="#ffffff" stroke-width="1.12" fill="none" />
<path d="M712.5 228 L713.5 232 L714.8 228.4" stroke="#2a2a2a" stroke-width="1.28" fill="none" />
<rect x="678.3" y="203.0" width="6.0" height="34.3" stroke="#2a2a2a" stroke-width="1.44" fill="none" />
<line x1="681.3" y1="203.0" x2="681.3" y2="237.0" stroke="#2a2a2a" stroke-width="0.80" />
<rect x="739.7" y="203.0" width="6.0" height="34.3" stroke="#2a2a2a" stroke-width="1.44" fill="none" />
<line x1="742.7" y1="203.0" x2="742.7" y2="237.0" stroke="#2a2a2a" stroke-width="0.80" />
<path d="M684.3 211.3 L690 213 L734 213.3 L739.7 211.6 M684.3 222.4 L690 220.6 L734 220.9 L739.7 222.7" stroke="#2a2a2a" stroke-width="1.44" fill="none" />
<line x1="684.3" y1="217.0" x2="739.7" y2="217.3" stroke="#2a2a2a" stroke-width="0.80" />
<path d="M662.5 206 L678.3 206 L678.3 226 L662.5 226 Z" stroke="#2a2a2a" stroke-width="1.44" fill="none" />
<rect x="664.5" y="209.0" width="11.8" height="14.0" stroke="#2a2a2a" stroke-width="1.28" fill="none" />
<circle cx="670.4" cy="211.0" r="2.6" stroke="#2a2a2a" stroke-width="1.28" fill="none"/>
<rect x="668.2" y="213.0" width="4.4" height="8.0" stroke="#2a2a2a" stroke-width="1.12" fill="none" />
<line x1="662.5" y1="216.0" x2="678.3" y2="216.0" stroke="#2a2a2a" stroke-width="0.80" />
<line x1="662.5" y1="219.0" x2="678.3" y2="219.0" stroke="#2a2a2a" stroke-width="0.80" />
<path d="M745.7 206 L762.5 206 L762.5 226 L745.7 226 Z" stroke="#2a2a2a" stroke-width="1.44" fill="none" />
<rect x="747.7" y="209.0" width="12.8" height="14.0" stroke="#2a2a2a" stroke-width="1.28" fill="none" />
<circle cx="754.1" cy="211.0" r="2.6" stroke="#2a2a2a" stroke-width="1.28" fill="none"/>
<rect x="751.9" y="213.0" width="4.4" height="8.0" stroke="#2a2a2a" stroke-width="1.12" fill="none" />
<line x1="745.7" y1="216.0" x2="762.5" y2="216.0" stroke="#2a2a2a" stroke-width="0.80" />
<line x1="745.7" y1="219.0" x2="762.5" y2="219.0" stroke="#2a2a2a" stroke-width="0.80" />
<path d="M664 204 L666 199.5 L668 204 M760 204.5 L758.5 200 L756.5 204.5 M733 203 L735 198 L737 203" stroke="#2a2a2a" stroke-width="1.28" fill="none" />
<path d="M662.5 226 L665 229 L676 229 L678.3 226 M745.7 226 L748 229 L760 229 L762.5 226" stroke="#2a2a2a" stroke-width="1.28" fill="none" />
<line x1="668.0" y1="237.3" x2="802.0" y2="237.8" stroke="#2a2a2a" stroke-width="1.44" />
</g>
<g id="dims" fill="none">
<line x1="194.6" y1="252.6" x2="518.2" y2="254.1" stroke="#2a2a2a" stroke-width="0.96" />
<path d="M194.6 252.6 L199.1 251.6 L199.1 253.6 Z" fill="#2a2a2a" stroke="none"/>
<path d="M518.2 254.1 L513.7 255.1 L513.7 253.1 Z" fill="#2a2a2a" stroke="none"/>
<line x1="130.6" y1="266.7" x2="579.8" y2="269.2" stroke="#2a2a2a" stroke-width="0.96" />
<path d="M130.6 266.7 L135.1 265.7 L135.1 267.7 Z" fill="#2a2a2a" stroke="none"/>
<path d="M579.8 269.2 L575.3 270.2 L575.3 268.2 Z" fill="#2a2a2a" stroke="none"/>
<line x1="104.6" y1="279.9" x2="605.3" y2="283.1" stroke="#2a2a2a" stroke-width="0.96" />
<path d="M104.6 279.9 L109.1 278.9 L109.1 280.9 Z" fill="#2a2a2a" stroke="none"/>
<path d="M605.3 283.1 L600.8 284.1 L600.8 282.1 Z" fill="#2a2a2a" stroke="none"/>
<line x1="103.9" y1="177.0" x2="104.7" y2="282.7" stroke="#2a2a2a" stroke-width="0.80" />
<line x1="130.2" y1="190.0" x2="130.7" y2="272.4" stroke="#2a2a2a" stroke-width="0.80" />
<line x1="579.6" y1="176.0" x2="579.9" y2="273.5" stroke="#2a2a2a" stroke-width="0.80" />
<line x1="605.0" y1="186.0" x2="605.4" y2="285.5" stroke="#2a2a2a" stroke-width="0.80" />
<line x1="194.2" y1="238.0" x2="194.7" y2="257.3" stroke="#2a2a2a" stroke-width="0.80" />
<line x1="518.0" y1="238.0" x2="518.3" y2="258.5" stroke="#2a2a2a" stroke-width="0.80" />
<text x="338.6" y="253.2" font-size="11.8" font-weight="normal" font-style="normal" fill="#2a2a2a" text-anchor="start" textLength="22.2" lengthAdjust="spacingAndGlyphs" stroke="#2a2a2a" stroke-width="0.2">7800</text>
<text x="360.2" y="268.2" font-size="11.8" font-weight="normal" font-style="normal" fill="#2a2a2a" text-anchor="start" textLength="27.0" lengthAdjust="spacingAndGlyphs" stroke="#2a2a2a" stroke-width="0.2">10800</text>
<text x="336.2" y="281.3" font-size="11.8" font-weight="normal" font-style="normal" fill="#2a2a2a" text-anchor="start" textLength="27.0" lengthAdjust="spacingAndGlyphs" stroke="#2a2a2a" stroke-width="0.2">12020</text>
<line x1="612.0" y1="194.4" x2="628.0" y2="194.5" stroke="#2a2a2a" stroke-width="0.96" />
<line x1="623.7" y1="135.5" x2="624.2" y2="237.7" stroke="#2a2a2a" stroke-width="1.12" />
<path d="M624.1 194.4 L625.1 198.9 L623.1 198.9 Z" fill="#2a2a2a" stroke="none"/>
<path d="M624.2 237.7 L623.2 233.2 L625.2 233.2 Z" fill="#2a2a2a" stroke="none"/>
<text transform="translate(622.6,184.3) rotate(-90)" font-size="10.8" fill="#2a2a2a" stroke="#2a2a2a" stroke-width="0.25" textLength="48" lengthAdjust="spacingAndGlyphs">1040-1080</text>
<line x1="651.0" y1="254.5" x2="772.0" y2="254.9" stroke="#2a2a2a" stroke-width="1.28" />
<path d="M651.0 254.5 L655.5 253.5 L655.5 255.5 Z" fill="#2a2a2a" stroke="none"/>
<path d="M772.0 254.9 L767.5 255.9 L767.5 253.9 Z" fill="#2a2a2a" stroke="none"/>
<line x1="651.0" y1="218.0" x2="651.0" y2="258.6" stroke="#2a2a2a" stroke-width="0.96" />
<line x1="772.0" y1="218.0" x2="772.0" y2="259.0" stroke="#2a2a2a" stroke-width="0.96" />
<text x="704.4" y="254.0" font-size="11.6" font-weight="normal" font-style="normal" fill="#2a2a2a" text-anchor="start" textLength="20.3" lengthAdjust="spacingAndGlyphs" stroke="#2a2a2a" stroke-width="0.2">3236</text>
<line x1="755.8" y1="54.1" x2="797.0" y2="54.1" stroke="#2a2a2a" stroke-width="1.12" />
<line x1="794.0" y1="54.1" x2="794.2" y2="237.4" stroke="#2a2a2a" stroke-width="1.12" />
<path d="M794.0 54.1 L795.0 58.6 L793.0 58.6 Z" fill="#2a2a2a" stroke="none"/>
<path d="M794.2 237.4 L793.2 232.9 L795.2 232.9 Z" fill="#2a2a2a" stroke="none"/>
<text transform="translate(793.2,151.5) rotate(-90)" font-size="10.8" fill="#2a2a2a" stroke="#2a2a2a" stroke-width="0.3" textLength="22.6" lengthAdjust="spacingAndGlyphs">4730</text>
</g>
<g id="hand" fill="none" stroke="#1f2c62" stroke-linecap="round" stroke-linejoin="round">
<path d="M 34.1 70.3 C 32.9 66.8 29.4 67.0 26.7 71.5 C 23.5 76.8 23.2 83.0 27.1 83.9 C 29.8 84.4 32.1 83.0 34.5 80.9" stroke="#1f2c62" stroke-width="1.5"/>
<path d="M 36.6 73.6 C 37.3 76.2 37.3 78.5 38.0 80.6 C 38.0 77.9 39.2 75.2 41.3 75.2 C 40.8 76.2 41.3 77.4 42.0 77.6" stroke="#1f2c62" stroke-width="1.4"/>
<path d="M 45.5 74.8 C 42.0 74.8 41.1 80.6 44.8 81.4 C 48.8 81.6 49.8 75.9 46.0 74.8 C 44.6 74.5 43.6 76.4 45.3 77.6 C 47.1 78.5 49.4 77.9 53.8 77.1" stroke="#1f2c62" stroke-width="1.4"/>
<path d="M 53.8 72.9 C 55.6 67.0 63.2 66.5 65.3 72.6 C 66.7 78.8 61.8 83.7 57.3 82.5 C 53.1 81.1 53.8 75.2 57.5 74.3 C 60.8 73.8 62.2 76.9 60.4 78.8 C 58.9 79.9 57.1 79.1 57.3 77.6" stroke="#1f2c62" stroke-width="1.5"/>
<path d="M 74.5 76.9 C 71.4 74.5 66.7 77.4 67.4 81.1 C 68.1 84.2 73.3 82.3 74.5 77.4 C 73.8 80.4 74.2 83.0 76.8 83.9" stroke="#1f2c62" stroke-width="1.5"/>
<circle cx="79.6" cy="85.4" r="1.0" fill="#1f2c62" stroke="none"/>
<path d="M 20.8 97.4 C 33.5 92.9 57.1 89.8 84.4 90.1" stroke="#4a5170" stroke-width="1.2"/>
<path d="M55 98.3 C82 110 110 124 128 141 C140 152 148 160 154.5 165.8" stroke="#566590" stroke-width="1.4"/>
<path d="M142.8 161.6 L154.5 165.8 L148.2 154.3" stroke="#566590" stroke-width="1.4"/>
<path d="M23 14.3 C30 13 40 13 49.2 13.2" stroke="#555c66" stroke-width="1.3"/>
</g>
<g id="txt" stroke="#222" stroke-width="0.3">
<text x="270.0" y="23.0" font-size="18.5" font-weight="bold" font-style="italic" fill="#1a1a1a" text-anchor="start" textLength="354.0" lengthAdjust="spacingAndGlyphs" >4-осная цистерна для пека, модель 15-1534</text>
<text x="367.7" y="305.0" font-size="11.6" font-weight="bold" font-style="italic" fill="#2a2a2a" text-anchor="start" textLength="164.2" lengthAdjust="spacingAndGlyphs" >Назначение: для перевозки пека</text>
<text x="67.4" y="326.9" font-size="9.5" font-weight="bold" font-style="italic" fill="#222" text-anchor="start" textLength="65.4" lengthAdjust="spacingAndGlyphs" >Номер проекта</text>
<text x="226.2" y="326.9" font-size="9.5" font-weight="bold" font-style="italic" fill="#222" text-anchor="start" >-</text>
<text x="67.4" y="337.7" font-size="9.5" font-weight="bold" font-style="italic" fill="#222" text-anchor="start" textLength="86.6" lengthAdjust="spacingAndGlyphs" >Технические условия</text>
<text x="226.2" y="337.7" font-size="9.5" font-weight="bold" font-style="italic" fill="#222" text-anchor="start" textLength="69.1" lengthAdjust="spacingAndGlyphs" >ТУ 24.00.6222-90</text>
<text x="67.4" y="348.6" font-size="9.5" font-weight="bold" font-style="italic" fill="#222" text-anchor="start" textLength="60.2" lengthAdjust="spacingAndGlyphs" >Модель вагона</text>
<text x="226.2" y="348.6" font-size="9.5" font-weight="bold" font-style="italic" fill="#222" text-anchor="start" >15-1534</text>
<text x="67.4" y="359.4" font-size="9.5" font-weight="bold" font-style="italic" fill="#222" text-anchor="start" textLength="45.6" lengthAdjust="spacingAndGlyphs" >Тип вагона</text>
<text x="226.2" y="359.4" font-size="9.5" font-weight="bold" font-style="italic" fill="#222" text-anchor="start" >704</text>
<text x="67.4" y="370.2" font-size="9.5" font-weight="bold" font-style="italic" fill="#222" text-anchor="start" textLength="60.8" lengthAdjust="spacingAndGlyphs" >Изготовитель</text>
<text x="226.2" y="370.2" font-size="9.5" font-weight="bold" font-style="italic" fill="#222" text-anchor="start" textLength="57.8" lengthAdjust="spacingAndGlyphs" >ОАО «МЗТМ»</text>
<text x="226.2" y="381.0" font-size="9.5" font-weight="bold" font-style="italic" fill="#222" text-anchor="start" textLength="69.1" lengthAdjust="spacingAndGlyphs" >ОАО «Азовмаш»</text>
<text x="67.4" y="391.9" font-size="9.5" font-weight="bold" font-style="italic" fill="#222" text-anchor="start" textLength="95.6" lengthAdjust="spacingAndGlyphs" >Грузоподъемность, т</text>
<text x="226.2" y="391.9" font-size="9.5" font-weight="bold" font-style="italic" fill="#222" text-anchor="start" >64,5</text>
<text x="67.4" y="402.7" font-size="9.5" font-weight="bold" font-style="italic" fill="#222" text-anchor="start" textLength="95.6" lengthAdjust="spacingAndGlyphs" >Масса тары вагона, т</text>
<text x="226.2" y="402.7" font-size="9.5" font-weight="bold" font-style="italic" fill="#222" text-anchor="start" >29,5</text>
<text x="67.4" y="413.5" font-size="9.5" font-weight="bold" font-style="italic" fill="#222" text-anchor="start" textLength="39.6" lengthAdjust="spacingAndGlyphs" >Нагрузка :</text>
<text x="82.0" y="424.4" font-size="9.5" font-weight="bold" font-style="italic" fill="#222" text-anchor="start" textLength="121.5" lengthAdjust="spacingAndGlyphs" >статическая осевая, кН(тс)</text>
<text x="226.2" y="424.4" font-size="9.5" font-weight="bold" font-style="italic" fill="#222" text-anchor="start" textLength="50.8" lengthAdjust="spacingAndGlyphs" >230,54 (23,5)</text>
<text x="82.0" y="435.2" font-size="9.5" font-weight="bold" font-style="italic" fill="#222" text-anchor="start" textLength="93.3" lengthAdjust="spacingAndGlyphs" >погонная, кН/м (тс/м)</text>
<text x="226.2" y="435.2" font-size="9.5" font-weight="bold" font-style="italic" fill="#222" text-anchor="start" textLength="45.6" lengthAdjust="spacingAndGlyphs" >76,06 (7,76)</text>
<text x="67.4" y="446.0" font-size="9.5" font-weight="bold" font-style="italic" fill="#222" text-anchor="start" >Объем котла, м<tspan font-size="6" dy="-3">3</tspan></text>
<text x="226.2" y="446.0" font-size="9.5" font-weight="bold" font-style="italic" fill="#222" text-anchor="start" >63,4</text>
<text x="67.4" y="456.9" font-size="9.5" font-weight="bold" font-style="italic" fill="#222" text-anchor="start" textLength="145.0" lengthAdjust="spacingAndGlyphs" >Скорость конструкционная, км/ч</text>
<text x="226.2" y="456.9" font-size="9.5" font-weight="bold" font-style="italic" fill="#222" text-anchor="start" >120</text>
<text x="67.4" y="467.7" font-size="9.5" font-weight="bold" font-style="italic" fill="#222" text-anchor="start" textLength="36.6" lengthAdjust="spacingAndGlyphs" >Габарит</text>
<text x="226.2" y="467.7" font-size="9.5" font-weight="bold" font-style="italic" fill="#222" text-anchor="start" >1-Т</text>
<text x="67.4" y="478.5" font-size="9.5" font-weight="bold" font-style="italic" fill="#222" text-anchor="start" textLength="65.6" lengthAdjust="spacingAndGlyphs" >База вагона, мм</text>
<text x="226.2" y="478.5" font-size="9.5" font-weight="bold" font-style="italic" fill="#222" text-anchor="start" >7800</text>
<text x="309.2" y="327.9" font-size="9.5" font-weight="bold" font-style="italic" fill="#222" text-anchor="start" textLength="47.5" lengthAdjust="spacingAndGlyphs" >Длина, мм:</text>
<text x="327.5" y="338.7" font-size="9.5" font-weight="bold" font-style="italic" fill="#222" text-anchor="start" textLength="131.5" lengthAdjust="spacingAndGlyphs" >по осям сцепления автосцепок</text>
<text x="516.6" y="338.7" font-size="9.5" font-weight="bold" font-style="italic" fill="#222" text-anchor="start" textLength="26.6" lengthAdjust="spacingAndGlyphs" >12020</text>
<text x="327.5" y="349.6" font-size="9.5" font-weight="bold" font-style="italic" fill="#222" text-anchor="start" textLength="108.5" lengthAdjust="spacingAndGlyphs" >по концевым балкам рамы</text>
<text x="516.6" y="349.6" font-size="9.5" font-weight="bold" font-style="italic" fill="#222" text-anchor="start" textLength="26.6" lengthAdjust="spacingAndGlyphs" >10800</text>
<text x="309.2" y="360.4" font-size="9.5" font-weight="bold" font-style="italic" fill="#222" text-anchor="start" textLength="139.2" lengthAdjust="spacingAndGlyphs" >Высота от уровня верха головок</text>
<text x="309.2" y="371.2" font-size="9.5" font-weight="bold" font-style="italic" fill="#222" text-anchor="start" textLength="112.5" lengthAdjust="spacingAndGlyphs" >рельсов максимальная, мм</text>
<text x="516.6" y="371.2" font-size="9.5" font-weight="bold" font-style="italic" fill="#222" text-anchor="start" >4730</text>
<text x="309.2" y="382.0" font-size="9.5" font-weight="bold" font-style="italic" fill="#222" text-anchor="start" textLength="93.3" lengthAdjust="spacingAndGlyphs" >Количество осей, шт.</text>
<text x="516.6" y="382.0" font-size="9.5" font-weight="bold" font-style="italic" fill="#222" text-anchor="start" >4</text>
<text x="309.2" y="392.9" font-size="9.5" font-weight="bold" font-style="italic" fill="#222" text-anchor="start" textLength="108.6" lengthAdjust="spacingAndGlyphs" >Модель 2-осной тележки</text>
<text x="516.6" y="392.9" font-size="9.5" font-weight="bold" font-style="italic" fill="#222" text-anchor="start" textLength="26.6" lengthAdjust="spacingAndGlyphs" >18-100</text>
<text x="309.2" y="403.7" font-size="9.5" font-weight="bold" font-style="italic" fill="#222" text-anchor="start" textLength="133.0" lengthAdjust="spacingAndGlyphs" >Наличие переходной площадки</text>
<text x="516.6" y="403.7" font-size="9.5" font-weight="bold" font-style="italic" fill="#222" text-anchor="start" >нет</text>
<text x="309.2" y="414.5" font-size="9.5" font-weight="bold" font-style="italic" fill="#222" text-anchor="start" textLength="133.0" lengthAdjust="spacingAndGlyphs" >Наличие стояночного тормоза</text>
<text x="516.6" y="414.5" font-size="9.5" font-weight="bold" font-style="italic" fill="#222" text-anchor="start" >есть</text>
<text x="309.2" y="425.4" font-size="9.5" font-weight="bold" font-style="italic" fill="#222" text-anchor="start" textLength="140.8" lengthAdjust="spacingAndGlyphs" >Диаметр котла внутренний, мм</text>
<text x="516.6" y="425.4" font-size="9.5" font-weight="bold" font-style="italic" fill="#222" text-anchor="start" >2800</text>
<text x="309.2" y="436.2" font-size="9.5" font-weight="bold" font-style="italic" fill="#222" text-anchor="start" textLength="171.3" lengthAdjust="spacingAndGlyphs" >Длина котла наружная с изоляцией, мм</text>
<text x="516.6" y="436.2" font-size="9.5" font-weight="bold" font-style="italic" fill="#222" text-anchor="start" textLength="26.6" lengthAdjust="spacingAndGlyphs" >10690</text>
<text x="309.2" y="447.0" font-size="9.5" font-weight="bold" font-style="italic" fill="#222" text-anchor="start" textLength="137.6" lengthAdjust="spacingAndGlyphs" >Количество верхних люков, шт.</text>
<text x="516.6" y="447.0" font-size="9.5" font-weight="bold" font-style="italic" fill="#222" text-anchor="start" >2</text>
<text x="309.2" y="457.9" font-size="9.5" font-weight="bold" font-style="italic" fill="#222" text-anchor="start" textLength="182.0" lengthAdjust="spacingAndGlyphs" >Наличие уклона котла к сливному прибору</text>
<text x="516.6" y="457.9" font-size="9.5" font-weight="bold" font-style="italic" fill="#222" text-anchor="start" >есть</text>
<text x="309.2" y="468.7" font-size="9.5" font-weight="bold" font-style="italic" fill="#222" text-anchor="start" textLength="189.6" lengthAdjust="spacingAndGlyphs" >Наличие электрооборудования для разогрева</text>
<text x="309.2" y="479.5" font-size="9.5" font-weight="bold" font-style="italic" fill="#222" text-anchor="start" textLength="41.3" lengthAdjust="spacingAndGlyphs" >продукта</text>
<text x="516.6" y="479.5" font-size="9.5" font-weight="bold" font-style="italic" fill="#222" text-anchor="start" >есть</text>
<text x="566.0" y="329.8" font-size="9.5" font-weight="bold" font-style="italic" fill="#222" text-anchor="start" textLength="103.1" lengthAdjust="spacingAndGlyphs" >Наличие теплоизоляции</text>
<text x="753.2" y="329.8" font-size="9.5" font-weight="bold" font-style="italic" fill="#222" text-anchor="start" >есть</text>
<text x="566.0" y="340.6" font-size="9.5" font-weight="bold" font-style="italic" fill="#222" text-anchor="start" textLength="109.2" lengthAdjust="spacingAndGlyphs" >Наличие кожуха изоляции</text>
<text x="753.2" y="340.6" font-size="9.5" font-weight="bold" font-style="italic" fill="#222" text-anchor="start" >есть</text>
<text x="566.0" y="351.5" font-size="9.5" font-weight="bold" font-style="italic" fill="#222" text-anchor="start" textLength="158.2" lengthAdjust="spacingAndGlyphs" >Наличие предохранительного клапана</text>
<text x="753.2" y="351.5" font-size="9.5" font-weight="bold" font-style="italic" fill="#222" text-anchor="start" >нет</text>
<text x="566.0" y="362.3" font-size="9.5" font-weight="bold" font-style="italic" fill="#222" text-anchor="start" textLength="165.8" lengthAdjust="spacingAndGlyphs" >Наличие предохранительного впускного-</text>
<text x="566.0" y="373.1" font-size="9.5" font-weight="bold" font-style="italic" fill="#222" text-anchor="start" textLength="34.4" lengthAdjust="spacingAndGlyphs" >клапана</text>
<text x="753.2" y="373.1" font-size="9.5" font-weight="bold" font-style="italic" fill="#222" text-anchor="start" >нет</text>
<text x="566.0" y="383.9" font-size="9.5" font-weight="bold" font-style="italic" fill="#222" text-anchor="start" textLength="162.8" lengthAdjust="spacingAndGlyphs" >Наличие предохранительной мембраны</text>
<text x="753.2" y="383.9" font-size="9.5" font-weight="bold" font-style="italic" fill="#222" text-anchor="start" >есть</text>
<text x="566.0" y="394.8" font-size="9.5" font-weight="bold" font-style="italic" fill="#222" text-anchor="start" textLength="97.0" lengthAdjust="spacingAndGlyphs" >Наличие лестниц, шт.:</text>
<text x="582.3" y="405.6" font-size="9.5" font-weight="bold" font-style="italic" fill="#222" text-anchor="start" textLength="44.4" lengthAdjust="spacingAndGlyphs" >наружных</text>
<text x="753.2" y="405.6" font-size="9.5" font-weight="bold" font-style="italic" fill="#222" text-anchor="start" >есть</text>
<text x="582.3" y="416.4" font-size="9.5" font-weight="bold" font-style="italic" fill="#222" text-anchor="start" textLength="49.0" lengthAdjust="spacingAndGlyphs" >внутренних</text>
<text x="753.2" y="416.4" font-size="9.5" font-weight="bold" font-style="italic" fill="#222" text-anchor="start" >нет</text>
<text x="566.0" y="427.3" font-size="9.5" font-weight="bold" font-style="italic" fill="#222" text-anchor="start" textLength="68.4" lengthAdjust="spacingAndGlyphs" >Способ выгрузки</text>
<text x="753.2" y="427.3" font-size="9.5" font-weight="bold" font-style="italic" fill="#222" text-anchor="start" textLength="72.8" lengthAdjust="spacingAndGlyphs" >верхний , нижний</text>
<text x="566.0" y="438.1" font-size="9.5" font-weight="bold" font-style="italic" fill="#222" text-anchor="start" textLength="119.9" lengthAdjust="spacingAndGlyphs" >Год постановки на серийное</text>
<text x="566.0" y="448.9" font-size="9.5" font-weight="bold" font-style="italic" fill="#222" text-anchor="start" textLength="57.2" lengthAdjust="spacingAndGlyphs" >производство</text>
<text x="753.2" y="448.9" font-size="9.5" font-weight="bold" font-style="italic" fill="#222" text-anchor="start" >1990</text>
<text x="566.0" y="459.8" font-size="9.5" font-weight="bold" font-style="italic" fill="#222" text-anchor="start" textLength="158.2" lengthAdjust="spacingAndGlyphs" >Год снятия с серийного производства</text>
<text x="753.2" y="459.8" font-size="9.5" font-weight="bold" font-style="italic" fill="#222" text-anchor="start" >-</text>
<text x="566.0" y="470.6" font-size="9.5" font-weight="bold" font-style="italic" fill="#222" text-anchor="start" textLength="141.4" lengthAdjust="spacingAndGlyphs" >Возможность установки буферов</text>
<text x="753.2" y="470.6" font-size="9.5" font-weight="bold" font-style="italic" fill="#222" text-anchor="start" >нет</text>
<text x="62.5" y="490.6" font-size="9.5" font-weight="bold" font-style="italic" fill="#222" text-anchor="start" textLength="739.5" lengthAdjust="spacingAndGlyphs" >Примечание: При постановки котлов цистерн на платформы рамной конструкции: для исполнения 15-1534-03 масса вагона 31,1 т; нагрузка от оси колесной пары на рельсы,</text>
<text x="115.0" y="500.4" font-size="9.5" font-weight="bold" font-style="italic" fill="#222" text-anchor="start" textLength="469.4" lengthAdjust="spacingAndGlyphs" >кН (тс), 230,54 (23,5) нагрузка на один погонный метр пути, кН/м (тс/м), 75,95 (7,75); грузоподъемность, т, 62.</text>
</g>
</svg>
</body></html>
